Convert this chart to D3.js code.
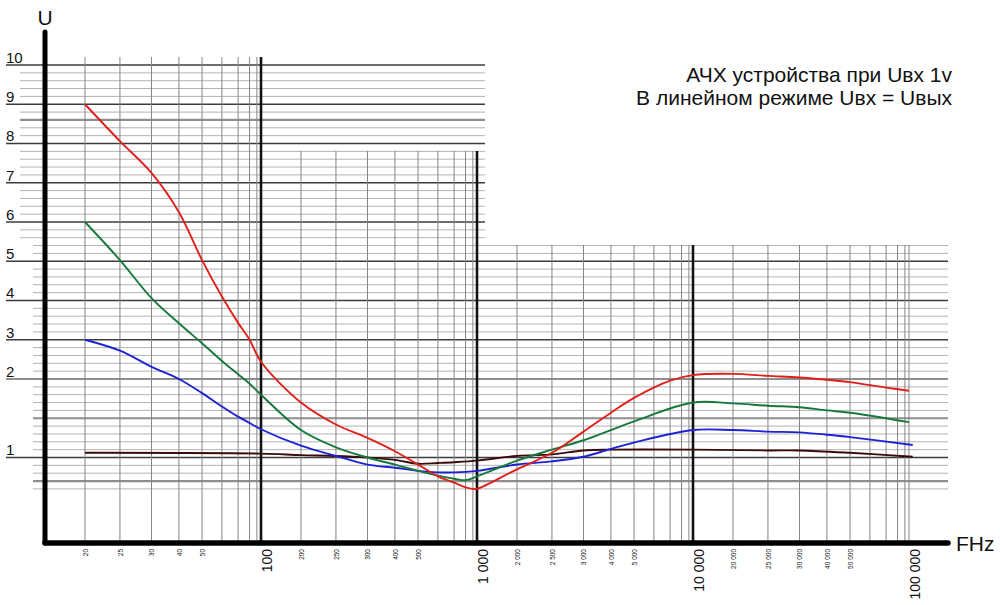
<!DOCTYPE html>
<html><head><meta charset="utf-8">
<script src="https://cdn.jsdelivr.net/npm/d3@7"></script>
<style>
html,body{margin:0;padding:0;background:#fff;}
svg{display:block;font-family:"Liberation Sans",Arial,sans-serif;}
</style></head>
<body><svg id="c" width="1000" height="605"></svg>
<script>
// ---------------- data ----------------
const title1 = "АЧХ устройства при Uвх 1v";
const title2 = "В линейном режиме Uвх = Uвых";
const yLabel = "U";
const xLabel = "FHz";

const minorTicks = [20,25,30,40,50,200,250,300,400,500,2000,2500,3000,4000,5000,20000,25000,30000,40000,50000];
const minorLabels = ["20","25","30","40","50","200","250","300","400","500","2 000","2 500","3 000","4 000","5 000","20 000","25 000","30 000","40 000","50 000"];
const majorTicks = [100,1000,10000,100000];
const majorLabels = ["100","1 000","10 000","100 000"];
const plainGrid = [60,70,80,90,600,700,800,900,6000,7000,8000,9000,60000,70000,80000,90000];
const yTicks = [1,2,3,4,5,6,7,8,9,10];
const yTickLabels = ["1","2","3","4","5","6","7","8","9","10"];

const redF   = [20,25,30,40,50,60,70,80,100,200,250,300,400,500,600,700,800,900,1000,2000,2500,3000,4000,5000,7000,10000,20000,25000,30000,40000,50000,70000,100000];
const redU   = [9.0,8.06,7.25,6.25,5.03,4.1,3.43,3.0,2.44,1.70,1.42,1.25,1.08,0.91,0.76,0.68,0.62,0.60,0.60,0.85,1.06,1.33,1.57,1.76,1.98,2.10,2.13,2.08,2.04,1.99,1.96,1.89,1.85];
const greenF = [20,25,30,40,50,60,70,80,100,200,250,300,400,500,600,700,800,1000,2000,2500,3000,4000,5000,10000,20000,25000,30000,40000,50000,100000];
const greenU = [6.0,5.03,4.06,3.42,2.91,2.46,2.12,1.94,1.80,1.35,1.13,1.0,0.91,0.83,0.77,0.73,0.71,0.76,0.96,1.10,1.22,1.35,1.46,1.70,1.69,1.66,1.64,1.60,1.57,1.45];
const blueF  = [20,25,30,40,50,60,70,80,100,200,250,300,400,500,600,700,1000,2000,2500,3000,4000,5000,10000,20000,25000,30000,40000,50000,110000];
const blueU  = [3.0,2.72,2.31,2.0,1.82,1.65,1.52,1.44,1.36,1.15,1.02,0.91,0.87,0.83,0.81,0.81,0.83,0.91,0.95,1.01,1.11,1.19,1.35,1.35,1.33,1.32,1.29,1.26,1.16];
const brownF = [20,100,200,250,300,400,500,600,700,1000,2000,2500,3000,4000,10000,25000,30000,50000,110000];
const brownU = [1.06,1.05,1.03,1.02,1.0,0.97,0.92,0.93,0.94,0.96,1.02,1.04,1.09,1.10,1.10,1.09,1.09,1.06,1.01];

// ---------------- scales ----------------
const svg = d3.select("#c");
const paperFrac = d3.scaleLinear()
  .domain([1,2,2.5,3,4,5,6,7,8,9,10])
  .range([0,.185,.347,.493,.620,.727,.819,.894,.947,.981,1]);
const decadeX = d3.scaleLinear().domain([1,5]).range([45,909]);
const knots = [];
[1,2,3,4].forEach(e => [1,2,2.5,3,4,5,6,7,8,9].forEach(m => knots.push(m*Math.pow(10,e))));
knots.push(100000);
const paperPos = f => { const e = Math.floor(Math.log10(f)+1e-9); return decadeX(e + paperFrac(f/Math.pow(10,e))); };
const x = d3.scaleLog().domain(knots).range(knots.map(paperPos));
const y = d3.scaleLinear().domain([1,2,10]).range([457.5,379,65]);

const axisY0 = 543;

// ---------------- grid ----------------
const gGrid = svg.append("g");
const hVals = d3.range(20, 101, 2).map(v => v/10).concat(d3.range(6, 20, 1).map(v => v/10));
const heavy = [8.6, 2, 1.5, 0.7];
hVals.forEach(v => {
  const upper = v >= 5.55;
  const isInt = Math.abs(v - Math.round(v)) < 1e-6 && v !== 2;
  const isHeavy = heavy.some(h => Math.abs(h - v) < 1e-6);
  gGrid.append("line")
    .attr("x1", isInt || v === 2 ? 6 : (upper ? 20 : 33))
    .attr("x2", upper ? 485 : 948)
    .attr("y1", y(v)).attr("y2", y(v))
    .attr("stroke", isInt ? "#3c3c3c" : (isHeavy ? "#8e8e8e" : "#b3b3b3"))
    .attr("stroke-width", isInt ? 1.3 : (isHeavy ? 2.2 : 1));
});
const vTop = f => f <= 100 ? 57 : (f <= 1000 ? 151 : 245);
minorTicks.concat(plainGrid).forEach(f => {
  gGrid.append("line")
    .attr("x1", x(f)).attr("x2", x(f))
    .attr("y1", vTop(f)).attr("y2", axisY0)
    .attr("stroke", "#858585").attr("stroke-width", 1);
});
majorTicks.forEach(f => {
  const dec = f < 100000;
  gGrid.append("line")
    .attr("x1", x(f)).attr("x2", x(f))
    .attr("y1", vTop(f)).attr("y2", axisY0)
    .attr("stroke", dec ? "#111" : "#858585").attr("stroke-width", dec ? 2.6 : 1);
});

// ---------------- curves ----------------
const line = d3.line().x(d => x(d[0])).y(d => y(d[1])).curve(d3.curveCatmullRom.alpha(0.5));
const series = [
  {f: brownF, u: brownU, c: "#3a0b0b"},
  {f: blueF,  u: blueU,  c: "#1c22d6"},
  {f: greenF, u: greenU, c: "#16793c"},
  {f: redF,   u: redU,   c: "#e01f1b"}
];
series.forEach(s => {
  svg.append("path")
    .datum(s.f.map((f,i) => [f, s.u[i]]))
    .attr("d", line).attr("fill", "none")
    .attr("stroke", s.c).attr("stroke-width", 1.9);
});

// ---------------- axes ----------------
const gx1 = svg.append("g").attr("transform", `translate(0,${axisY0})`)
  .call(d3.axisBottom(x).tickValues(minorTicks).tickFormat((d,i) => minorLabels[i]).tickSize(0));
gx1.select(".domain").remove();
gx1.selectAll("text")
  .attr("transform", "rotate(-90)").attr("x", -6).attr("y", 0).attr("dy", "0.35em")
  .attr("text-anchor", "end").attr("font-size", 6.5).attr("fill", "#111")
  .attr("font-family", "Liberation Sans, Arial, sans-serif");

const gx2 = svg.append("g").attr("transform", `translate(0,${axisY0})`)
  .call(d3.axisBottom(x).tickValues(majorTicks).tickFormat((d,i) => majorLabels[i]).tickSize(0));
gx2.select(".domain").remove();
gx2.selectAll("text")
  .attr("transform", "rotate(-90)").attr("x", -6).attr("y", 10.5).attr("dy", 0)
  .attr("text-anchor", "end").attr("font-size", 14).attr("fill", "#111")
  .attr("font-family", "Liberation Sans, Arial, sans-serif");

const gy = svg.append("g").attr("transform", "translate(45,0)")
  .call(d3.axisLeft(y).tickValues(yTicks).tickFormat((d,i) => yTickLabels[i]).tickSize(0));
gy.select(".domain").remove();
gy.selectAll("text")
  .attr("x", 6 - 45).attr("dy", -2.6).attr("text-anchor", "start")
  .attr("font-size", 15).attr("fill", "#111")
  .attr("font-family", "Liberation Sans, Arial, sans-serif");

svg.append("line").attr("x1", 45).attr("x2", 45).attr("y1", 32).attr("y2", axisY0)
  .attr("stroke", "#000").attr("stroke-width", 5).attr("stroke-linecap", "round");
svg.append("line").attr("x1", 45).attr("x2", 948).attr("y1", axisY0).attr("y2", axisY0)
  .attr("stroke", "#000").attr("stroke-width", 5.5).attr("stroke-linecap", "round");

svg.append("text").attr("x", 45).attr("y", 25).attr("text-anchor", "middle")
  .attr("font-size", 21).attr("fill", "#111").text(yLabel);
svg.append("text").attr("x", 956).attr("y", 551)
  .attr("font-size", 21).attr("fill", "#111").text(xLabel);

svg.append("text").attr("x", 952).attr("y", 81.5).attr("text-anchor", "end")
  .attr("font-size", 21).attr("fill", "#111").text(title1);
svg.append("text").attr("x", 952).attr("y", 104.5).attr("text-anchor", "end")
  .attr("font-size", 21).attr("fill", "#111").text(title2);
</script></body></html>
